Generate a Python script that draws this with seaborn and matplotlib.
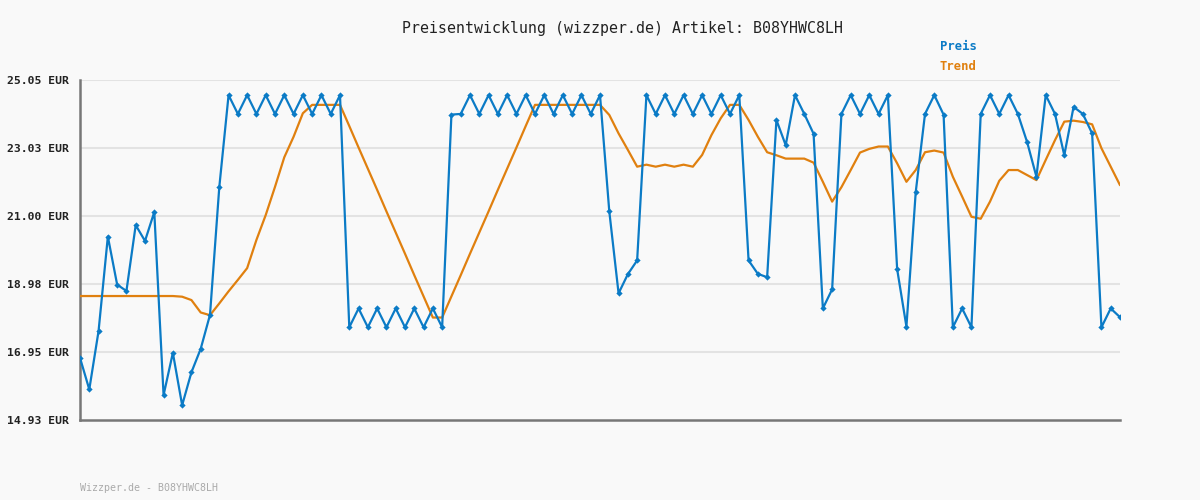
import matplotlib
matplotlib.use("Agg")
import matplotlib.pyplot as plt
import seaborn as sns
import pandas as pd
import numpy as np

# ---- data ----
H, L = 24.60, 24.04
LH, LL = 18.25, 17.69
preis = [16.78, 15.84, 17.58, 20.39, 18.96, 18.77, 20.73, 20.26, 21.12, 15.67,
         16.93, 15.37, 16.35, 17.05, 18.06, 21.86,
         H, L, H, L, H, L, H, L, H, L, H, L, H,
         LL, LH, LL, LH, LL, LH, LL, LH, LL, LH, LL,
         24.02, 24.04,
         H, L, H, L, H, L, H, L, H, L, H, L, H, L, H,
         21.14, 18.70, 19.27, 19.68,
         H, L, H, L, H, L, H, L, H, L, H,
         19.68, 19.28, 19.18, 23.86, 23.11, H, L, 23.45, 18.25, 18.82,
         L, H, L, H, L, H,
         19.42, 17.71, 21.71, L, H, 24.02, LL, LH, LL,
         L, H, L, H, L, 23.20, 22.17, H, L, 22.81, 24.25, L, 23.46,
         LL, LH, 17.99]
trend = [18.62] * 11 + [18.60, 18.50, 18.13, 18.05, 18.40, 18.76, 19.10, 19.45,
         20.29, 21.03, 21.87, 22.75, 23.36, 24.06, 24.31, 24.31, 24.31, 24.31,
         23.68, 23.04, 22.41, 21.78, 21.14, 20.51, 19.88, 19.24, 18.61, 17.98,
         17.98, 18.61, 19.24, 19.88, 20.51, 21.14, 21.78, 22.41, 23.04, 23.68,
         24.31, 24.31, 24.31, 24.31, 24.31, 24.31, 24.31, 24.31,
         24.01, 23.46, 22.97, 22.47, 22.53, 22.47, 22.53, 22.47, 22.53, 22.47,
         22.82, 23.41, 23.91, 24.31, 24.31, 23.86, 23.36, 22.90, 22.81, 22.71,
         22.71, 22.71, 22.59, 22.02, 21.43, 21.86, 22.37, 22.89,
         23.00, 23.07, 23.07, 22.57, 22.02, 22.37, 22.90, 22.95, 22.89, 22.17,
         21.58, 20.98, 20.92, 21.43, 22.05, 22.37, 22.37, 22.22, 22.07, 22.67,
         23.26, 23.81, 23.84, 23.80, 23.73, 23.02, 22.47, 21.92]
yticks = [14.93, 16.95, 18.98, 21.00, 23.03, 25.05]
ytick_labels = ["14.93 EUR", "16.95 EUR", "18.98 EUR", "21.00 EUR", "23.03 EUR", "25.05 EUR"]
title = "Preisentwicklung (wizzper.de) Artikel: B08YHWC8LH"
footer = "Wizzper.de - B08YHWC8LH"

n = len(preis)
df = pd.DataFrame({"idx": np.arange(n), "Preis": preis, "Trend": trend[:n]})

BLUE = "#0b7bc6"
ORANGE = "#e0800f"
BG = "#f9f9f9"

sns.set_theme(style="white")
plt.rcParams['font.family'] = ['DejaVu Sans Mono', 'DejaVu Sans']

fig = plt.figure(figsize=(12, 5), dpi=100, facecolor=BG)
ax = fig.add_axes([80/1200, 80/500, 1040/1200, 340/500])
ax.set_facecolor(BG)

sns.lineplot(data=df, x="idx", y="Trend", ax=ax, color=ORANGE, linewidth=1.6, zorder=3)
sns.lineplot(data=df, x="idx", y="Preis", ax=ax, color=BLUE, linewidth=1.6,
             marker="D", markersize=3.2, markeredgewidth=0, zorder=4)

ax.set_xlim(0, n - 1)
ax.set_ylim(14.93, 25.05)
ax.set_yticks(yticks)
ax.set_yticklabels(ytick_labels, fontsize=8.2, fontweight="bold", color="#222222")
ax.set_xticks([])
ax.set_xlabel("")
ax.set_ylabel("")
ax.tick_params(axis="y", length=0, pad=8)
for y in yticks[1:]:
    ax.axhline(y, color="#e3e3e3", linewidth=1.5, zorder=1)

for s in ["top", "right"]:
    ax.spines[s].set_visible(False)
ax.spines["left"].set_color("#777777")
ax.spines["left"].set_linewidth(1.8)
ax.spines["bottom"].set_color("#777777")
ax.spines["bottom"].set_linewidth(1.8)

fig.text(623/1200, 1 - 28/500, title, ha="center", va="center", fontsize=10.7, color="#222222")
fig.text(940/1200, 1 - 47/500, "Preis", ha="left", va="center", fontsize=8.8, fontweight="bold", color=BLUE)
fig.text(940/1200, 1 - 67/500, "Trend", ha="left", va="center", fontsize=8.8, fontweight="bold", color=ORANGE)
fig.text(80/1200, 1 - 488/500, footer, ha="left", va="center", fontsize=7.2, color="#aaaaaa")

fig.savefig("out.png", dpi=100, facecolor=BG)
